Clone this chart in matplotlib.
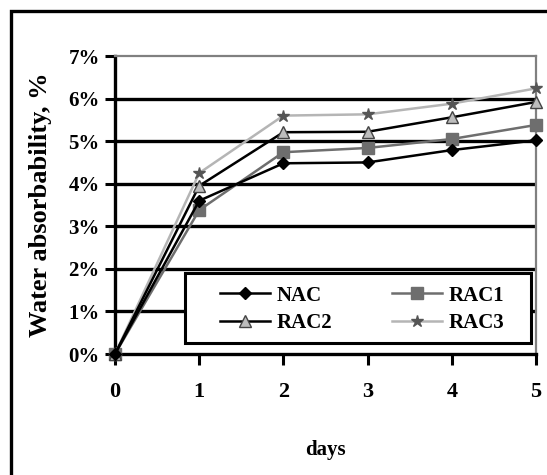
import matplotlib
matplotlib.use("Agg")
import matplotlib.pyplot as plt
from matplotlib.patches import Rectangle
from matplotlib.ticker import FuncFormatter

plt.rcParams['font.family'] = ['Liberation Serif', 'DejaVu Serif']
plt.rcParams['font.weight'] = 'bold'

days = [0, 1, 2, 3, 4, 5]
nac = [0.0, 3.60, 4.48, 4.50, 4.79, 5.02]
rac1 = [0.0, 3.38, 4.74, 4.84, 5.05, 5.38]
rac2 = [0.0, 3.95, 5.21, 5.22, 5.56, 5.92]
rac3 = [0.0, 4.25, 5.60, 5.63, 5.88, 6.24]
y_ticks = [0, 1, 2, 3, 4, 5, 6, 7]

fig = plt.figure(figsize=(5.47, 4.75), dpi=100)
ax = fig.add_axes([115 / 547, 121 / 475, 421 / 547, 298 / 475])

# outer frame of the original picture
fig.patches.append(Rectangle((11 / 547, -0.2), 1.2, (475 - 11) / 475 + 0.2,
                             transform=fig.transFigure, fill=False,
                             edgecolor='black', linewidth=2.4))

for y in y_ticks[1:-1]:
    ax.axhline(y, color='black', linewidth=2.4, zorder=1)

l_nac, = ax.plot(days, nac, color='black', linewidth=1.8, marker='D', markersize=6,
                 markerfacecolor='black', markeredgecolor='black', label='NAC',
                 clip_on=False, zorder=5)
l_rac1, = ax.plot(days, rac1, color='#6e6e6e', linewidth=1.8, marker='s', markersize=8,
                  markerfacecolor='#6e6e6e', markeredgecolor='#6e6e6e', label='RAC1',
                  clip_on=False, zorder=4)
l_rac2, = ax.plot(days, rac2, color='black', linewidth=1.8, marker='^', markersize=8,
                  markerfacecolor='#bdbdbd', markeredgecolor='#444444', label='RAC2',
                  clip_on=False, zorder=4)
l_rac3, = ax.plot(days, rac3, color='#b5b5b5', linewidth=1.8, marker='*', markersize=9,
                  markerfacecolor='#555555', markeredgecolor='#555555', label='RAC3',
                  clip_on=False, zorder=3)

ax.set_xlim(0, 5)
ax.set_ylim(0, 7)
ax.set_xticks(days)
ax.set_yticks(y_ticks)
ax.yaxis.set_major_formatter(FuncFormatter(lambda v, p: f"{int(v)}%"))

ax.spines['left'].set_linewidth(2.4)
ax.spines['bottom'].set_linewidth(2.4)
ax.spines['top'].set_color('#808080')
ax.spines['right'].set_color('#808080')
ax.spines['top'].set_linewidth(1.6)
ax.spines['right'].set_linewidth(1.6)

ax.tick_params(axis='y', direction='out', length=7.5, width=2.2, pad=3.5,
               labelsize=15)
ax.tick_params(axis='x', direction='out', length=8, width=2.2, pad=12,
               labelsize=16)

ax.set_ylabel('Water absorbability, %', fontsize=19, fontweight='bold')
ax.yaxis.set_label_coords(-0.15, 0.5)
ax.set_xlabel('days', fontsize=15, fontweight='bold')
ax.xaxis.set_label_coords(0.5, -0.29)

# legend box (white, black border) with the entries placed inside it
ax.add_patch(Rectangle((70 / 421, 11 / 298), 346 / 421, 70 / 298,
                       transform=ax.transAxes, facecolor='white',
                       edgecolor='black', linewidth=2.2, zorder=9,
                       clip_on=False))
handles = [l_nac, l_rac2, l_rac1, l_rac3]
leg = ax.legend(handles, [h.get_label() for h in handles], ncol=2, loc='lower left',
                bbox_to_anchor=(105 / 421, 21 / 298, 284 / 421, 50 / 298),
                mode='expand', fontsize=15, frameon=False, borderpad=0,
                handlelength=2.4, handletextpad=0.3, labelspacing=0.35,
                columnspacing=3.0, borderaxespad=0)
leg.set_zorder(10)

fig.savefig('out.png', dpi=100)
